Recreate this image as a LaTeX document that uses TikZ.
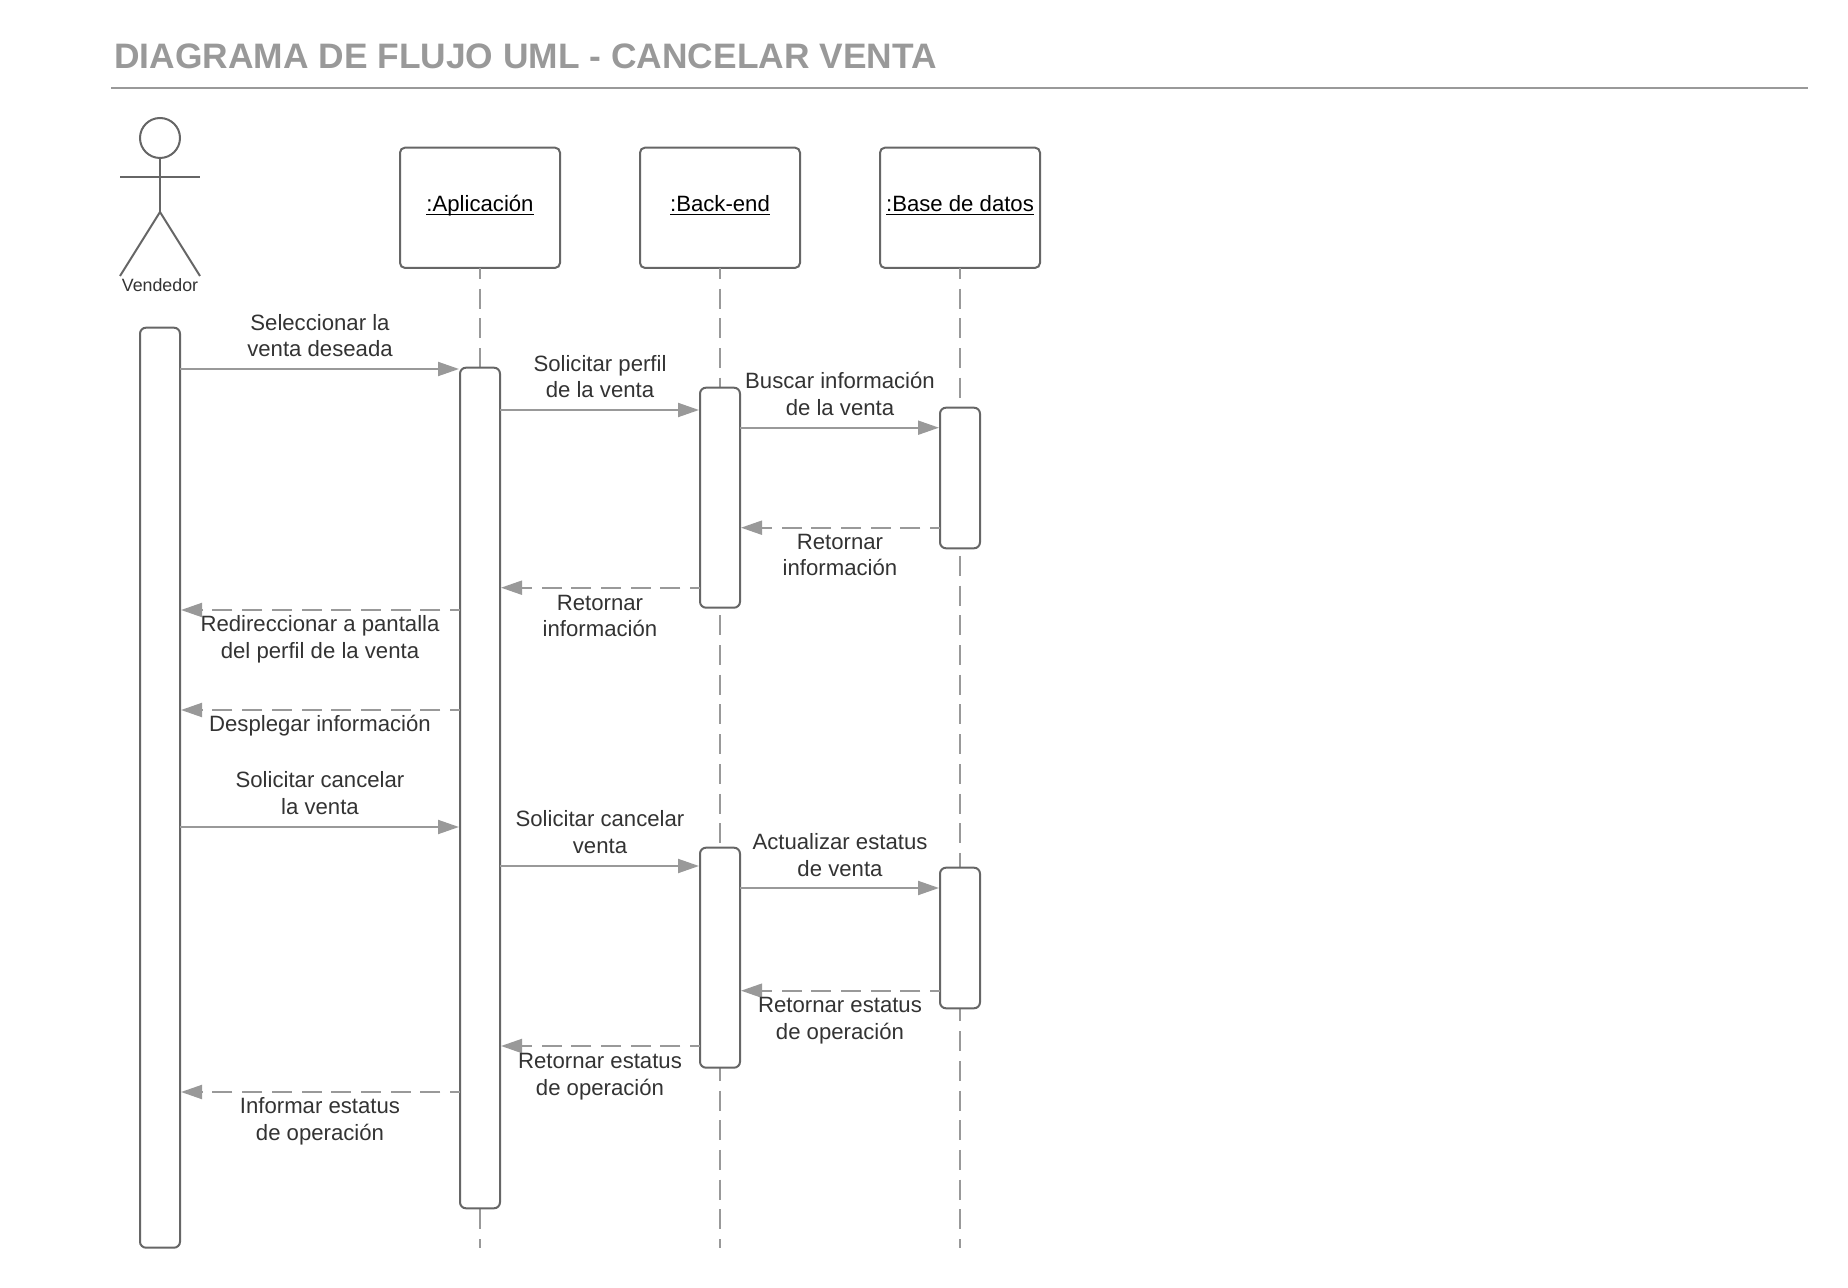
\documentclass[tikz,border=0pt]{standalone}
\usepackage{fontspec}
\setmainfont{Liberation Sans}
\usetikzlibrary{arrows.meta}
\definecolor{boxline}{HTML}{666666}
\definecolor{msgline}{HTML}{999999}
\definecolor{txt}{HTML}{333333}
\newcommand{\headrule}[1]{{\setbox0\hbox{#1}\rlap{\rule[-1.6pt]{\wd0}{0.7pt}}\box0}}
\tikzset{
  x=0.5pt,y=-0.5pt,
  headbox/.style={draw=boxline,line width=1pt,rounded corners=2.5pt,fill=white,minimum width=80pt,minimum height=60.15pt,inner sep=0pt,outer sep=0pt},
  headtext/.style={text=black,font=\fontsize{11.08}{13.33}\selectfont,inner sep=0pt,anchor=base},
  actbox/.style={draw=boxline,line width=1pt,rounded corners=3pt,fill=white,minimum width=20pt,inner sep=0pt,outer sep=0pt},
  lifeline/.style={draw=msgline,line width=1pt,dash pattern=on 10pt off 4.85pt,dash phase=4.5pt},
  callmsg/.style={draw=msgline,line width=1pt,-{Triangle[length=10.5pt,width=7pt]},shorten >=0.5pt},
  retmsg/.style={draw=msgline,line width=1pt,dash pattern=on 10pt off 4.85pt,dash phase=5pt,-{Triangle[length=10.5pt,width=7pt]},shorten >=0.5pt},
  msglabel/.style={text=txt,font=\fontsize{11.08}{13.33}\selectfont,align=center,inner sep=0pt},
  actorline/.style={draw=boxline,line width=1pt},
}
\begin{document}
\begin{tikzpicture}
\useasboundingbox (0,0) rectangle (1848,1288);
% title
\node[anchor=base west,inner sep=0pt,text=msgline,font=\fontsize{17.68}{20}\bfseries\selectfont] (title) at (114,69) {DIAGRAMA DE FLUJO UML - CANCELAR VENTA};
\coordinate (ruleL) at (111,88);
\coordinate (ruleR) at (1808,88);
\draw[draw=msgline,line width=1pt] (ruleL) -- (ruleR);
% actor
\node[circle,draw=boxline,line width=1pt,minimum size=20pt,inner sep=0pt,outer sep=0pt] (head) at (160,138) {};
\coordinate (hip) at (160,212);
\coordinate (armL) at (120,177.3);
\coordinate (armR) at (200,177.3);
\coordinate (footL) at (120,276);
\coordinate (footR) at (200,276);
\draw[actorline] (head.south) -- (hip);
\draw[actorline] (armL) -- (armR);
\draw[actorline] (footL) -- (hip) -- (footR);
\node[text=txt,font=\fontsize{8.9}{10}\selectfont,inner sep=0pt] (vendedor) at (160,285) {Vendedor};
% lifeline heads
\node[headbox] (hA) at (480,207.8) {};
\node[headbox] (hB) at (720,207.8) {};
\node[headbox] (hC) at (960,207.8) {};
\node[headtext] (tA) at (480,212) {\headrule{:Aplicación}};
\node[headtext] (tB) at (720,212) {\headrule{:Back-end}};
\node[headtext] (tC) at (960,212) {\headrule{:Base de datos}};
% lifelines
\coordinate (eA) at (480,1247.7);
\coordinate (eB) at (720,1247.7);
\coordinate (eC) at (960,1247.7);
\draw[lifeline] (hA.south) -- (eA);
\draw[lifeline] (hB.south) -- (eB);
\draw[lifeline] (hC.south) -- (eC);
% activations
\node[actbox,minimum height=460pt] (aV) at (160,787.7) {};
\node[actbox,minimum height=420.3pt] (aA) at (480,788) {};
\node[actbox,minimum height=110pt] (aB1) at (720,497.7) {};
\node[actbox,minimum height=70.3pt] (aC1) at (960,478) {};
\node[actbox,minimum height=110pt] (aB2) at (720,957.7) {};
\node[actbox,minimum height=70.3pt] (aC2) at (960,938) {};
% messages
\draw[callmsg] (aV.east |- 0,369) -- (aA.west |- 0,369);
\draw[callmsg] (aA.east |- 0,410) -- (aB1.west |- 0,410);
\draw[callmsg] (aB1.east |- 0,427.7) -- (aC1.west |- 0,427.7);
\draw[retmsg] (aC1.west |- 0,527.7) -- (aB1.east |- 0,527.7);
\draw[retmsg] (aB1.west |- 0,587.7) -- (aA.east |- 0,587.7);
\draw[retmsg] (aA.west |- 0,610) -- (aV.east |- 0,610);
\draw[retmsg] (aA.west |- 0,710) -- (aV.east |- 0,710);
\draw[callmsg] (aV.east |- 0,827) -- (aA.west |- 0,827);
\draw[callmsg] (aA.east |- 0,866) -- (aB2.west |- 0,866);
\draw[callmsg] (aB2.east |- 0,888) -- (aC2.west |- 0,888);
\draw[retmsg] (aC2.west |- 0,990.7) -- (aB2.east |- 0,990.7);
\draw[retmsg] (aB2.west |- 0,1046) -- (aA.east |- 0,1046);
\draw[retmsg] (aA.west |- 0,1092) -- (aV.east |- 0,1092);
% labels
\node[msglabel] (l1) at (320,335.5) {Seleccionar la\\venta deseada};
\node[msglabel] (l2) at (600,376.7) {Solicitar perfil\\de la venta};
\node[msglabel] (l3) at (840,394) {Buscar información\\de la venta};
\node[msglabel] (l4) at (840,555) {Retornar\\información};
\node[msglabel] (l5) at (600,616) {Retornar\\información};
\node[msglabel] (l6) at (320,639.3) {Redireccionar a pantalla\\del perfil de la venta};
\node[msglabel] (l7) at (320,726) {Desplegar información};
\node[msglabel] (l8) at (320,793.3) {Solicitar cancelar\\la venta};
\node[msglabel] (l9) at (600,832.3) {Solicitar cancelar\\venta};
\node[msglabel] (l10) at (840,855) {Actualizar estatus\\de venta};
\node[msglabel] (l11) at (840,1021) {Retornar estatus\\de operación};
\node[msglabel] (l12) at (600,1076.5) {Retornar estatus\\de operación};
\node[msglabel] (l13) at (320,1121.5) {Informar estatus\\de operación};
\end{tikzpicture}
\end{document}
